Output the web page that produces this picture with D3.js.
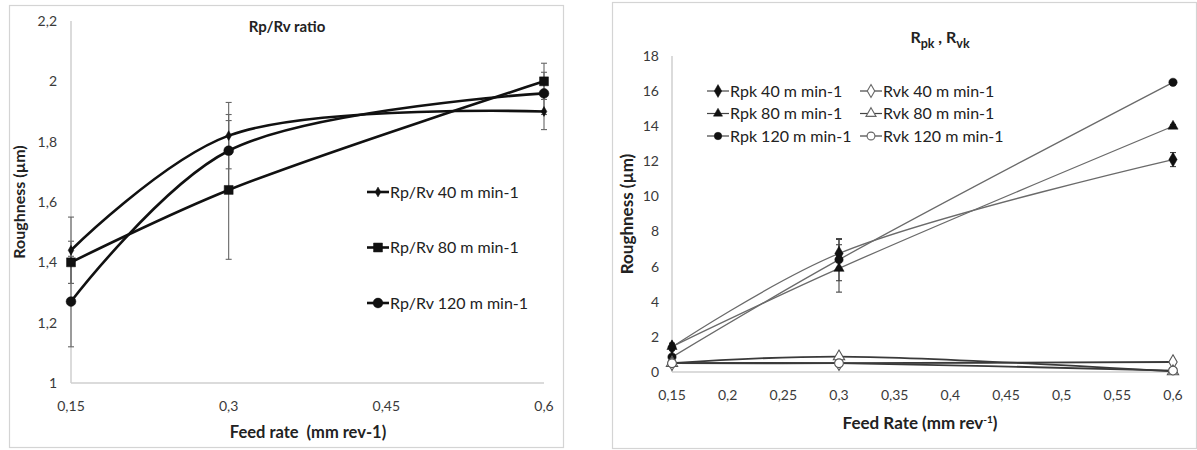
<html lang="en">
<head>
  <title>Rp/Rv ratio and Rpk, Rvk</title>
  <meta charset="utf-8">
  <script src="https://cdn.jsdelivr.net/npm/d3@7"></script>
  <style>
    body { margin: 0; background: white; }
    text { font-family: Lato, 'Open Sans', sans-serif; }
    .tick_label { font-size: 14px; fill: #3a3a3a; }
    .axis_title { font-size: 16px; font-weight: bold; fill: #222; }
    .legend_text { font-size: 16px; fill: #222; }
  </style>
</head>

<body>
  <svg id='canvas' style='width: 1197px; height: 450px; display: block;'></svg>
</body>

<script>

// feed rates (mm rev-1)
var feed = [0.15, 0.3, 0.6];

// left chart: Rp/Rv ratio
var ratio_40 = [1.44, 1.82, 1.90];
var ratio_80 = [1.40, 1.64, 2.00];
var ratio_120 = [1.27, 1.77, 1.96];
var ratio_40_err = [0.11, 0.11, 0.06];
var ratio_80_err = [0.07, 0.23, 0.06];
var ratio_120_err = [0.15, 0.12, 0.07];
var left_x_ticks = [0.15, 0.3, 0.45, 0.6];
var left_y_ticks = [1, 1.2, 1.4, 1.6, 1.8, 2, 2.2];

// right chart: Rpk, Rvk
var rpk_40 = [1.42, 6.75, 12.1];
var rpk_80 = [1.45, 5.9, 14.0];
var rpk_120 = [0.85, 6.4, 16.5];
var rvk_40 = [0.5, 0.5, 0.57];
var rvk_80 = [0.5, 0.88, 0.03];
var rvk_120 = [0.5, 0.5, 0.08];
var rpk_40_err = [0.2, 0.8, 0.4];
var rpk_80_err = [0.2, 1.35, 0.1];
var rpk_120_err = [0.15, 1.2, 0.1];
var right_x_ticks = [0.15, 0.2, 0.25, 0.3, 0.35, 0.4, 0.45, 0.5, 0.55, 0.6];
var right_y_ticks = [0, 2, 4, 6, 8, 10, 12, 14, 16, 18];

var svg = d3.select('#canvas');
var fmt = function(d){ return String(d).replace('.', ','); };

/*******************************************************************************/
// helpers

function frame(x, y, w, h){
  svg.append('rect').attr('x', x + 0.5).attr('y', y + 0.5).attr('width', w).attr('height', h)
    .style('fill', 'white').style('stroke', '#d4d4d4').style('stroke-width', 1.2);
}

function axes(xScale, yScale, xTicks, yTicks, xLabelY, yLabelX){
  var x0 = xScale.range()[0], x1 = xScale.range()[1];
  var y0 = yScale.range()[0], y1 = yScale.range()[1];
  svg.append('line').attr('x1', x0).attr('x2', x0).attr('y1', y0).attr('y2', y1).style('stroke', '#cfcfcf').style('stroke-width', 1.5);
  svg.append('line').attr('x1', x0).attr('x2', x1).attr('y1', y0).attr('y2', y0).style('stroke', '#cfcfcf').style('stroke-width', 1.5);
  svg.selectAll(null).data(yTicks).enter().append('text').attr('class', 'tick_label')
    .attr('x', yLabelX).attr('y', function(d){ return yScale(d); }).attr('dy', '0.35em')
    .attr('text-anchor', 'end').text(fmt);
  svg.selectAll(null).data(xTicks).enter().append('text').attr('class', 'tick_label')
    .attr('x', function(d){ return xScale(d); }).attr('y', xLabelY).attr('dy', '0.35em')
    .attr('text-anchor', 'middle').text(fmt);
}

function marker(g, type, cx, cy, size, filled, color){
  var sym = { diamond: d3.symbolDiamond, square: d3.symbolSquare, circle: d3.symbolCircle, triangle: d3.symbolTriangle }[type];
  g.append('path').attr('d', d3.symbol().type(sym).size(size)())
    .attr('transform', 'translate(' + cx + ',' + cy + ')')
    .style('fill', filled ? color : 'white').style('stroke', color).style('stroke-width', filled ? 0.5 : 1.1);
}

function errorBars(xScale, yScale, vals, errs, color){
  feed.forEach(function(f, i){
    var x = xScale(f), lo = yScale(vals[i] - errs[i]), hi = yScale(vals[i] + errs[i]);
    svg.append('line').attr('x1', x).attr('x2', x).attr('y1', lo).attr('y2', hi).style('stroke', color).style('stroke-width', 1.1);
    [lo, hi].forEach(function(y){
      svg.append('line').attr('x1', x - 3).attr('x2', x + 3).attr('y1', y).attr('y2', y).style('stroke', color).style('stroke-width', 1.1);
    });
  });
}

/*******************************************************************************/
// left chart: Rp/Rv ratio

frame(9, 5, 554, 442);

var lx = d3.scaleLinear().domain([0.15, 0.6]).range([71, 544]);
var ly = d3.scaleLinear().domain([1, 2.2]).range([383, 21]);
axes(lx, ly, left_x_ticks, left_y_ticks, 406, 57);

var left_series = [
  { vals: ratio_40, errs: ratio_40_err, type: 'diamond', size: 28, label: 'Rp/Rv 40 m min-1' },
  { vals: ratio_80, errs: ratio_80_err, type: 'square', size: 80, label: 'Rp/Rv 80 m min-1' },
  { vals: ratio_120, errs: ratio_120_err, type: 'circle', size: 75, label: 'Rp/Rv 120 m min-1' }
];

left_series.forEach(function(s){ errorBars(lx, ly, s.vals, s.errs, '#666'); });

var left_line = d3.line().x(function(d, i){ return lx(feed[i]); }).y(function(d){ return ly(d); }).curve(d3.curveCatmullRom.alpha(0.5));
left_series.forEach(function(s){
  svg.append('path').attr('d', left_line(s.vals)).style('fill', 'none').style('stroke', '#111').style('stroke-width', 2.6);
  var g = svg.append('g');
  s.vals.forEach(function(v, i){ marker(g, s.type, lx(feed[i]), ly(v), s.size, true, '#111'); });
});

svg.append('text').attr('class', 'axis_title').attr('x', 287).attr('y', 27).attr('dy', '0.35em')
  .attr('text-anchor', 'middle').style('font-size', '15px').text('Rp/Rv ratio');
svg.append('text').attr('class', 'axis_title').attr('x', 308).attr('y', 432).attr('dy', '0.35em')
  .attr('text-anchor', 'middle').style('white-space', 'pre').style('font-size', '16.5px').text('Feed rate  (mm rev-1)');
svg.append('text').attr('class', 'axis_title').attr('transform', 'translate(19,202) rotate(-90)')
  .attr('dy', '0.35em').attr('text-anchor', 'middle').text('Roughness (µm)');

left_series.forEach(function(s, i){
  var y = 192 + i * 55.5;
  svg.append('line').attr('x1', 367).attr('x2', 389).attr('y1', y).attr('y2', y).style('stroke', '#111').style('stroke-width', 2.6);
  marker(svg.append('g'), s.type, 378, y, s.size, true, '#111');
  svg.append('text').attr('class', 'legend_text').attr('x', 390).attr('y', y).attr('dy', '0.35em').text(s.label);
});

/*******************************************************************************/
// right chart: Rpk, Rvk

frame(612, 2, 584, 446);

var rx = d3.scaleLinear().domain([0.15, 0.6]).range([672, 1173]);
var ry = d3.scaleLinear().domain([0, 18]).range([372, 56]);
axes(rx, ry, right_x_ticks, right_y_ticks, 395, 659);

var right_series = [
  { vals: rpk_40, errs: rpk_40_err, type: 'diamond', size: 60, filled: true, label: 'Rpk 40 m min-1' },
  { vals: rpk_80, errs: rpk_80_err, type: 'triangle', size: 45, filled: true, label: 'Rpk 80 m min-1' },
  { vals: rpk_120, errs: rpk_120_err, type: 'circle', size: 55, filled: true, label: 'Rpk 120 m min-1' },
  { vals: rvk_40, errs: null, type: 'diamond', size: 60, filled: false, label: 'Rvk 40 m min-1' },
  { vals: rvk_80, errs: null, type: 'triangle', size: 55, filled: false, label: 'Rvk 80 m min-1' },
  { vals: rvk_120, errs: null, type: 'circle', size: 60, filled: false, label: 'Rvk 120 m min-1' }
];

right_series.forEach(function(s){ if(s.errs){ errorBars(rx, ry, s.vals, s.errs, '#444'); } });

var right_line = d3.line().x(function(d, i){ return rx(feed[i]); }).y(function(d){ return ry(d); }).curve(d3.curveCatmullRom.alpha(0.5));
right_series.forEach(function(s){
  svg.append('path').attr('d', right_line(s.vals)).style('fill', 'none')
    .style('stroke', s.filled ? '#6a6a6a' : '#3a3a3a').style('stroke-width', s.filled ? 1.3 : 1.8);
});
right_series.forEach(function(s){
  var g = svg.append('g');
  s.vals.forEach(function(v, i){ marker(g, s.type, rx(feed[i]), ry(v), s.size, s.filled, s.filled ? '#111' : '#555'); });
});

var title = svg.append('text').attr('class', 'axis_title').attr('x', 940).attr('y', 37).attr('dy', '0.35em')
  .attr('text-anchor', 'middle').style('font-size', '16px');
title.append('tspan').text('R');
title.append('tspan').attr('dy', 5).style('font-size', '12.5px').text('pk');
title.append('tspan').attr('dy', -5).text(' , R');
title.append('tspan').attr('dy', 5).style('font-size', '12.5px').text('vk');

var xt = svg.append('text').attr('class', 'axis_title').attr('x', 920).attr('y', 423).attr('dy', '0.35em')
  .attr('text-anchor', 'middle').style('font-size', '17px');
xt.append('tspan').text('Feed Rate (mm rev');
xt.append('tspan').attr('dy', -6).style('font-size', '10px').text('-1');
xt.append('tspan').attr('dy', 6).text(')');

svg.append('text').attr('class', 'axis_title').attr('transform', 'translate(627,214) rotate(-90)')
  .attr('dy', '0.35em').attr('text-anchor', 'middle').style('font-size', '17px').text('Roughness (µm)');

right_series.forEach(function(s, i){
  var col = Math.floor(i / 3), row = i % 3;
  var x = 707 + col * 153, y = 91 + row * 22.5;
  svg.append('line').attr('x1', x).attr('x2', x + 22).attr('y1', y).attr('y2', y).style('stroke', '#444').style('stroke-width', 1.2);
  marker(svg.append('g'), s.type, x + 11, y, s.size * 0.8, s.filled, s.filled ? '#111' : '#666');
  svg.append('text').attr('class', 'legend_text').attr('x', x + 23).attr('y', y).attr('dy', '0.35em').style('font-size', '16px').text(s.label);
});

</script>
</html>
